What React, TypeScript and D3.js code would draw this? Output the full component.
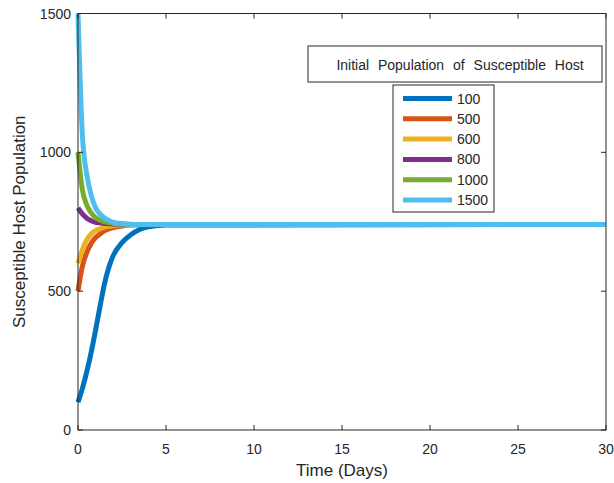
import { useEffect, useRef } from 'react'
import * as d3 from 'd3'

const WIDTH = 614
const HEIGHT = 483
const MARGIN = { top: 13.5, right: 8, bottom: 53, left: 78 }

// time samples (days)
const days = [0, 0.25, 0.5, 0.75, 1, 1.25, 1.5, 1.75, 2, 2.5, 3, 3.5, 4, 5, 30]

const initialLabels = ['100', '500', '600', '800', '1000', '1500']
const seriesColors = ['#0072BD', '#D95319', '#EDB120', '#7E2F8E', '#77AC30', '#4DBEEE']

const host100 = [100, 150, 210, 280, 360, 445, 525, 585, 628, 675, 703, 722, 732, 738, 740]
const host500 = [500, 590, 640, 672, 693, 706, 717, 724, 729, 735, 738, 739, 740, 740, 740]
const host600 = [600, 650, 685, 706, 718, 725, 731, 734, 736, 739, 740, 740, 740, 740, 740]
const host800 = [800, 778, 763, 754, 748, 746, 744, 743, 742, 741, 740, 740, 740, 740, 740]
const host1000 = [1000, 865, 810, 782, 765, 756, 750, 747, 744, 741, 740, 740, 740, 740, 740]
const host1500 = [1500, 1060, 920, 845, 800, 778, 764, 755, 748, 743, 741, 740, 740, 740, 740]

const seriesValues = [host100, host500, host600, host800, host1000, host1500]

const xTicks = [0, 5, 10, 15, 20, 25, 30]
const yTicks = [0, 500, 1000, 1500]

const AXIS_COLOR = '#262626'
const FONT = 'Liberation Sans, Arial, sans-serif'

export default function App() {
  const svgRef = useRef<SVGSVGElement>(null)

  useEffect(() => {
    const svg = d3.select(svgRef.current)
    svg.selectAll('*').remove()

    const x = d3.scaleLinear().domain([0, 30]).range([MARGIN.left, WIDTH - MARGIN.right])
    const y = d3.scaleLinear().domain([0, 1500]).range([HEIGHT - MARGIN.bottom, MARGIN.top])

    const root = svg
      .attr('width', WIDTH)
      .attr('height', HEIGHT)
      .attr('viewBox', `0 0 ${WIDTH} ${HEIGHT}`)
      .attr('font-family', FONT)

    root.append('rect').attr('width', WIDTH).attr('height', HEIGHT).attr('fill', '#fff')

    const [x0, x1] = x.range()
    const [y0, y1] = y.range()

    // series
    const line = d3
      .line<number>()
      .x((_, i) => x(days[i]))
      .y((v) => y(v))
      .curve(d3.curveMonotoneX)

    seriesValues.forEach((values, i) => {
      root
        .append('path')
        .datum(values)
        .attr('fill', 'none')
        .attr('stroke', seriesColors[i])
        .attr('stroke-width', 5)
        .attr('d', line)
    })

    // box + ticks
    const axes = root.append('g').attr('stroke', AXIS_COLOR).attr('stroke-width', 1).attr('fill', 'none')
    axes
      .append('rect')
      .attr('x', x0)
      .attr('y', y1)
      .attr('width', x1 - x0)
      .attr('height', y0 - y1)

    xTicks.forEach((t) => {
      axes.append('line').attr('x1', x(t)).attr('x2', x(t)).attr('y1', y0).attr('y2', y0 - 5)
      axes.append('line').attr('x1', x(t)).attr('x2', x(t)).attr('y1', y1).attr('y2', y1 + 5)
    })
    yTicks.forEach((t) => {
      axes.append('line').attr('x1', x0).attr('x2', x0 + 5).attr('y1', y(t)).attr('y2', y(t))
      axes.append('line').attr('x1', x1).attr('x2', x1 - 5).attr('y1', y(t)).attr('y2', y(t))
    })

    const text = root.append('g').attr('fill', AXIS_COLOR).attr('font-size', 14)

    text
      .selectAll('text.xtick')
      .data(xTicks)
      .join('text')
      .attr('class', 'xtick')
      .attr('x', (d) => x(d))
      .attr('y', y0 + 24)
      .attr('text-anchor', 'middle')
      .text((d) => d)

    text
      .selectAll('text.ytick')
      .data(yTicks)
      .join('text')
      .attr('class', 'ytick')
      .attr('x', x0 - 7)
      .attr('y', (d) => y(d) + 5)
      .attr('text-anchor', 'end')
      .text((d) => d)

    text
      .append('text')
      .attr('x', (x0 + x1) / 2)
      .attr('y', 476)
      .attr('text-anchor', 'middle')
      .attr('font-size', 17)
      .text('Time (Days)')

    text
      .append('text')
      .attr('transform', `translate(25,${(y0 + y1) / 2}) rotate(-90)`)
      .attr('text-anchor', 'middle')
      .attr('font-size', 17)
      .text('Susceptible Host Population')

    // legend
    const legend = root.append('g').attr('fill', AXIS_COLOR).attr('font-size', 14)

    legend
      .append('rect')
      .attr('x', 308)
      .attr('y', 46)
      .attr('width', 294)
      .attr('height', 36)
      .attr('fill', '#fff')
      .attr('stroke', AXIS_COLOR)
    legend
      .append('text')
      .attr('x', 460)
      .attr('y', 69.5)
      .attr('text-anchor', 'middle')
      .attr('word-spacing', 5)
      .text('Initial Population of Susceptible Host')

    legend
      .append('rect')
      .attr('x', 393)
      .attr('y', 85)
      .attr('width', 101)
      .attr('height', 127)
      .attr('fill', '#fff')
      .attr('stroke', AXIS_COLOR)

    initialLabels.forEach((label, i) => {
      const ly = 98.5 + i * 20.3
      legend
        .append('line')
        .attr('x1', 403)
        .attr('x2', 452)
        .attr('y1', ly)
        .attr('y2', ly)
        .attr('stroke', seriesColors[i])
        .attr('stroke-width', 5)
      legend
        .append('text')
        .attr('x', 457)
        .attr('y', ly + 5)
        .text(label)
    })
  }, [])

  return (
    <div style={{ position: 'absolute', left: 0, top: 0 }}>
      <svg ref={svgRef} style={{ display: 'block' }} />
    </div>
  )
}
